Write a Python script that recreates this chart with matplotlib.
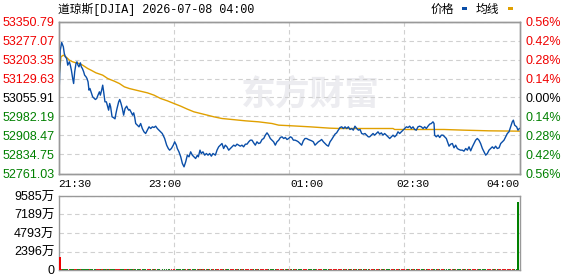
import matplotlib
matplotlib.use("Agg")
import matplotlib.pyplot as plt
from matplotlib.patches import Rectangle

plt.rcParams["font.family"] = ["Liberation Sans", "Noto Sans CJK SC", "DejaVu Sans"]

title = "道琼斯[DJIA] 2026-07-08 04:00"
pre_close = 53055.91
price_ticks = [52761.03, 52834.75, 52908.47, 52982.19, 53055.91,
               53129.63, 53203.35, 53277.07, 53350.79]
time_pos = [0, 90, 210, 300, 390]
time_labels = ["21:30", "23:00", "01:00", "02:30", "04:00"]
grid_pos = [97.5, 195, 292.5]

# minutes after 21:30 and price
price_min = [
    0.1, 0.7, 1.5, 2.7, 3.5, 4.1, 4.9, 5.8, 6.9, 7.8, 9.2, 10.0, 10.9, 12.0, 12.8,
    13.7, 14.8, 15.6, 16.5, 17.3, 18.5, 19.3, 20.2, 21.3, 22.1, 23.3, 24.1, 25.0,
    25.8, 26.6, 27.5, 28.9, 30.3, 31.2, 32.3, 33.4, 34.6, 35.4, 36.5, 37.4, 38.2,
    39.3, 40.5, 41.6, 42.4, 43.3, 44.1, 45.3, 46.4, 47.8, 48.6, 49.5, 50.9, 51.8,
    52.9, 54.0, 55.1, 56.3, 57.7, 58.5, 59.4, 60.2, 61.3, 62.7, 63.6, 64.4, 65.3,
    66.7, 68.1, 69.5, 70.9, 72.3, 73.7, 75.2, 76.6, 78.0, 79.4, 80.8, 82.2, 83.6,
    85.0, 87.8, 89.8, 91.5, 92.9, 94.0, 95.5, 97.1, 98.3, 99.7, 100.5, 101.9,
    103.4, 104.8, 106.2, 107.6, 109.0, 110.4, 111.8, 113.2, 114.6, 116.0, 117.5,
    118.3, 119.7, 120.8, 122.2, 123.7, 125.1, 126.5, 127.9, 129.3, 130.7,
    132.7, 134.1, 135.5, 136.9, 138.3, 139.7, 141.1, 142.5, 144.0, 145.4, 146.8,
    148.2, 149.6, 151.0, 152.4, 153.8, 155.2, 156.6, 158.1, 159.5, 160.9, 162.3,
    163.7, 165.1, 166.5, 167.9, 169.3, 170.7, 172.2, 173.6, 175.0, 176.4, 177.8,
    179.2, 180.6, 182.0, 183.4, 184.8, 186.3, 187.7, 189.1, 190.5, 191.9, 193.3,
    194.7, 196.1,
    197.3, 198.7, 200.1, 201.5, 202.9, 204.3, 205.7, 207.1, 208.5, 209.9, 211.4,
    212.8, 214.2, 215.6, 217.0, 218.4, 219.8, 221.2, 222.6, 224.1, 225.5, 226.9,
    228.3, 229.7, 231.1, 232.5, 233.9, 235.3, 236.7, 238.2, 239.6, 241.0, 242.4,
    243.8, 245.2, 246.6, 248.0, 249.4, 250.8, 252.3, 253.7, 255.1, 256.5, 257.9,
    259.3, 260.7, 262.1,
    263.2, 264.7, 266.1, 267.5, 268.9, 270.3, 271.7, 273.1, 274.5, 275.9, 277.4,
    278.8, 280.2, 281.6, 283.0, 284.4, 285.8, 287.2, 288.6, 290.0, 291.5, 292.9,
    294.3, 295.7, 297.1, 298.5, 299.9, 301.3, 302.7, 304.1, 305.5, 307.0, 308.4,
    309.8, 311.2, 312.6, 314.0, 315.4, 316.8, 317.7, 318.2, 319.6, 321.1, 322.5,
    323.9, 325.3, 326.7, 328.1,
    330.4, 331.8, 333.2, 334.6, 336.0, 337.4, 338.8, 340.2, 341.6, 343.0, 344.5,
    345.9, 347.3, 348.7, 350.1, 351.5, 352.9, 354.3, 355.7, 357.1, 358.6, 360.0,
    361.4, 362.8, 364.2, 365.6, 367.0, 368.4, 369.8, 371.2, 372.7, 374.1, 375.5,
    376.9, 378.3, 379.7, 381.1, 382.5, 383.9, 384.8, 385.9, 387.6, 388.7, 389.9,
]
price = [
    53174.9, 53103.8, 53239.6, 53269.3, 53259.0, 53252.5, 53226.6, 53213.7, 53207.2,
    53181.4, 53194.3, 53181.4, 53162.0, 53129.6, 53110.2, 53155.5, 53187.8, 53194.3,
    53181.4, 53174.9, 53190.4, 53174.9, 53168.4, 53155.5, 53142.6, 53136.1, 53129.6,
    53116.7, 53084.4, 53090.8, 53077.9, 53058.5, 53052.0, 53048.2, 53052.0, 53065.0,
    53077.9, 53065.0, 53084.4, 53103.8, 53077.9, 53039.1, 53039.1, 53019.7, 53006.8,
    53032.6, 53019.7, 52980.9, 52978.3, 52973.1, 52993.8, 53013.2, 53039.1, 53048.2,
    53032.6, 53013.2, 52987.4, 53013.2, 53022.3, 53013.2, 53006.8, 53009.4, 53000.3,
    52987.4, 52996.4, 52980.9, 52955.0,
    52948.6, 52942.1, 52955.0, 52935.6, 52922.7, 52916.2, 52929.2, 52942.1, 52935.6,
    52942.1, 52939.5, 52944.7, 52935.6, 52929.2, 52916.2, 52896.8, 52871.0, 52858.0,
    52851.6, 52858.0, 52871.0, 52883.9, 52871.0, 52858.0, 52845.1, 52825.7, 52799.8,
    52786.9, 52806.3, 52832.2, 52825.7, 52845.1, 52832.2, 52825.7, 52819.2, 52832.2,
    52825.7, 52851.6, 52838.6, 52845.1, 52832.2, 52838.6, 52832.2, 52838.6, 52828.3,
    52838.6,
    52832.2, 52851.6, 52864.5, 52871.0, 52877.4, 52858.0, 52871.0, 52864.5, 52851.6,
    52858.0, 52864.5, 52871.0, 52867.1, 52874.9, 52871.0, 52867.1, 52871.0, 52864.5,
    52874.9, 52874.9, 52883.9, 52890.4, 52890.4, 52880.0, 52871.0, 52883.9, 52877.4,
    52880.0, 52893.0, 52896.8, 52909.8, 52918.8, 52909.8, 52896.8, 52890.4, 52883.9,
    52871.0, 52883.9, 52890.4, 52900.7, 52903.3, 52896.8, 52900.7, 52893.0, 52896.8,
    52903.3,
    52900.7, 52890.4, 52890.4, 52887.8, 52883.9, 52877.4, 52871.0, 52887.8, 52896.8,
    52896.8, 52893.0, 52890.4, 52887.8, 52883.9, 52871.0, 52877.4, 52883.9, 52887.8,
    52893.0, 52883.9, 52877.4, 52871.0, 52867.1, 52883.9, 52893.0, 52903.3, 52913.7,
    52918.8, 52929.2, 52939.5, 52942.1, 52935.6, 52942.1, 52935.6, 52942.1, 52931.8,
    52935.6, 52929.2, 52944.7, 52935.6, 52929.2, 52931.8, 52916.2, 52913.7, 52916.2,
    52909.8, 52903.3,
    52903.3, 52909.8, 52916.2, 52909.8, 52916.2, 52922.7, 52913.7, 52918.8, 52909.8,
    52916.2, 52909.8, 52903.3, 52896.8, 52903.3, 52909.8, 52903.3, 52909.8, 52922.7,
    52916.2, 52922.7, 52929.2, 52935.6, 52942.1, 52939.5, 52944.7, 52935.6, 52942.1,
    52931.8, 52929.2, 52942.1, 52944.7, 52942.1, 52935.6, 52942.1, 52935.6, 52944.7,
    52952.5, 52955.0, 52961.5, 52955.0, 52909.8, 52903.3, 52909.8, 52900.7, 52909.8,
    52909.8, 52903.3, 52896.8,
    52867.1, 52874.9, 52877.4, 52860.6, 52871.0, 52858.0, 52854.2, 52851.6, 52851.6,
    52847.7, 52858.0, 52851.6, 52864.5, 52849.0, 52864.5, 52877.4, 52890.4, 52896.8,
    52890.4, 52877.4, 52858.0, 52845.1, 52832.2, 52838.6, 52851.6, 52858.0, 52864.5,
    52858.0, 52867.1, 52858.0, 52860.6, 52877.4, 52883.9, 52890.4, 52903.3, 52916.2,
    52922.7, 52942.1, 52961.5, 52968.0, 52948.6, 52942.1, 52929.2, 52935.6,
]

avg_min = [0.7, 2.1, 4.1, 6.3, 9.2, 12.0, 14.8, 17.6, 20.4, 24.7, 27.5, 31.7, 37.4,
           41.6, 47.2, 51.5, 55.7, 59.9, 65.6, 75.2, 80.8, 86.4, 92.1, 97.7, 103.4,
           109.0, 114.6, 120.3, 125.9, 131.5, 138.3, 146.8, 158.1, 169.3, 180.6,
           186.3, 197.5, 212.8, 229.7, 238.2, 283.0, 284.4, 326.1, 343.0, 364.2, 390.0]
avg_price = [53149.0, 53213.7, 53220.2, 53213.7, 53200.8, 53194.3, 53190.4, 53187.8,
             53181.4, 53168.4, 53162.0, 53151.6, 53142.6, 53129.6, 53119.3, 53110.2,
             53097.3, 53090.8, 53084.4, 53074.0, 53065.0, 53052.0, 53043.0, 53032.6,
             53022.3, 53010.7, 53000.3, 52993.8, 52987.4, 52980.9, 52974.4, 52970.6,
             52965.4, 52961.5, 52955.0, 52948.6, 52946.0, 52942.1, 52936.9, 52935.6,
             52935.6, 52931.8, 52931.8, 52929.2, 52926.6, 52925.3]

# volume, in 万
vol_ticks = [0, 2396, 4793, 7189, 9585]
vol_min = [1.3, 388.8]
vol = [1723, 8769]
vol_up = [True, False]
vol_small = 130  # the tiny bars along the bottom

RED = "#f00000"
GREEN = "#008000"
BLUE = "#0a4ea8"
GOLD = "#e0a000"
GRID = "#d0d0d0"
SPINE = "#999999"

W, H = 578, 276
fig = plt.figure(figsize=(W / 100, H / 100), dpi=100)

L, R = 58.5, 519.5
ax = fig.add_axes([L / W, 1 - 173.5 / H, (R - L) / W, 152 / H])
axv = fig.add_axes([L / W, 1 - 270 / H, (R - L) / W, 74 / H])

# watermark
ax.text(0.395, 0.52, "东方财富", transform=ax.transAxes, fontsize=25,
        fontweight="bold", color="#ececf0", family=["Noto Sans CJK SC"],
        ha="left", va="center", zorder=0)

ax.plot(avg_min, avg_price, color=GOLD, lw=1.0, zorder=3)
ax.plot(price_min, price, color=BLUE, lw=1.0, zorder=4)

ax.set_xlim(0, 390)
ax.set_ylim(price_ticks[0], price_ticks[-1])
ax.set_yticks(price_ticks)
ax.set_yticklabels([f"{t:.2f}" for t in price_ticks], fontsize=9)
ax.set_xticks(time_pos)
ax.set_xticklabels(time_labels, family=["Liberation Mono"], fontsize=8)
ax.set_xticks(grid_pos, minor=True)
ax.tick_params(axis="both", which="both", length=0)
ax.tick_params(axis="y", pad=3)
ax.tick_params(axis="x", pad=4)
ax.grid(axis="y", which="major", color=GRID, ls=(0, (4, 3)), lw=0.8)
ax.grid(axis="x", which="minor", color=GRID, ls=(0, (4, 3)), lw=0.8)
xl = ax.get_xticklabels()
xl[0].set_ha("left")
xl[-1].set_ha("right")


def tick_color(t):
    if abs(t - pre_close) < 0.01:
        return "black"
    return RED if t > pre_close else GREEN


for lab, t in zip(ax.get_yticklabels(), price_ticks):
    lab.set_color(tick_color(t))

ax2 = ax.twinx()
ax2.set_ylim(ax.get_ylim())
ax2.set_yticks(price_ticks)
ax2.set_yticklabels([f"{abs(t - pre_close) / pre_close * 100:.2f}%" for t in price_ticks],
                    fontsize=9)
ax2.tick_params(axis="y", length=0, pad=4)
for lab, t in zip(ax2.get_yticklabels(), price_ticks):
    lab.set_color(tick_color(t))

for a in (ax, ax2, axv):
    for s in a.spines.values():
        s.set_color(SPINE)
        s.set_linewidth(1.0)

# volume
small_x = price_min[1:-1]
small_c = [RED if price[i + 1] >= price[i] else GREEN for i in range(len(small_x))]
axv.bar(small_x, [vol_small] * len(small_x), width=1.3, color=small_c, lw=0)
axv.bar(vol_min, vol, width=1.6, color=[RED if u else GREEN for u in vol_up], lw=0,
        zorder=3)
axv.set_xlim(0, 390)
axv.set_ylim(0, vol_ticks[-1])
axv.set_yticks(vol_ticks)
axv.set_yticklabels(["0"] + [f"{v}万" for v in vol_ticks[1:]], fontsize=9)
axv.set_xticks([])
axv.set_xticks(grid_pos, minor=True)
axv.tick_params(axis="both", which="both", length=0, pad=3)
axv.grid(axis="y", color=GRID, ls=(0, (4, 3)), lw=0.8)
axv.grid(axis="x", which="minor", color=GRID, ls=(0, (4, 3)), lw=0.8)
axv.set_axisbelow(True)

# header
fig.text(58 / W, 1 - 9 / H, title, fontsize=8.5, va="center", ha="left",
         family=["Liberation Mono", "Noto Sans CJK SC"])
fig.text(431 / W, 1 - 9.5 / H, "价格", fontsize=8.5, va="center", ha="left")
fig.text(476 / W, 1 - 9.5 / H, "均线", fontsize=8.5, va="center", ha="left")
fig.patches.append(Rectangle((461.5 / W, 1 - 9.5 / H), 5 / W, 2.5 / H,
                             transform=fig.transFigure, color=BLUE, lw=0))
fig.patches.append(Rectangle((508 / W, 1 - 9.5 / H), 5 / W, 2.5 / H,
                             transform=fig.transFigure, color=GOLD, lw=0))

fig.savefig("out.png", dpi=100)
